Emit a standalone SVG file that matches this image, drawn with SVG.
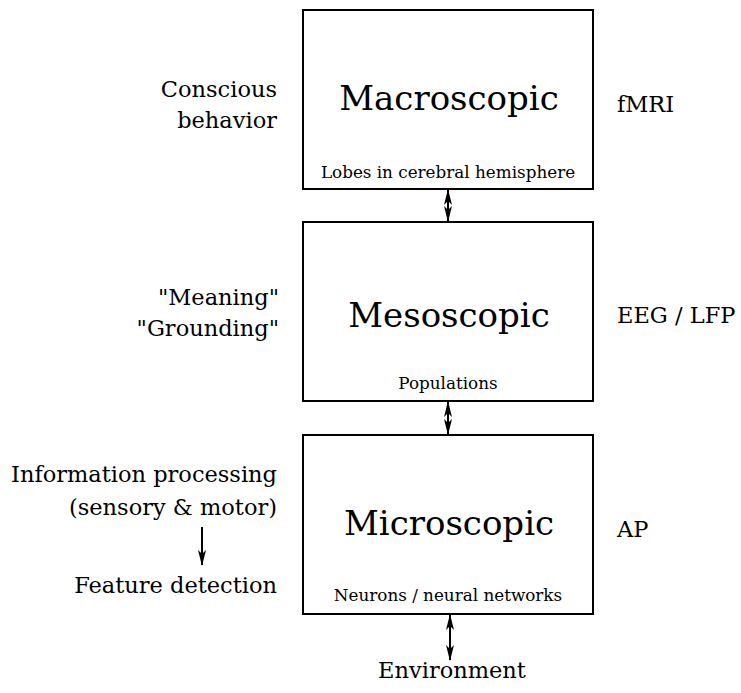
<svg xmlns="http://www.w3.org/2000/svg" width="741" height="693" viewBox="0 0 741 693">
<style>
  text { font-family: "DejaVu Serif", "Liberation Serif", serif; fill: #000; }
  .box { fill: #fff; stroke: #000; stroke-width: 2; }
  .title { font-size: 34px; text-anchor: middle; }
  .sub { font-size: 16.8px; text-anchor: middle; }
  .side { font-size: 22.5px; }
  .left { text-anchor: end; }
  .conn { stroke: #000; stroke-width: 2; fill: none; }
</style>
<defs>
  <marker id="head" viewBox="0 0 16 8" refX="15" refY="4" markerWidth="16" markerHeight="8" markerUnits="userSpaceOnUse" orient="auto-start-reverse">
    <path d="M0,0 L16,4 L0,8 L4,4 z" fill="#000"/>
  </marker>
</defs>
<rect width="741" height="693" fill="#fff"/>

<g id="macro">
  <rect class="box" x="303" y="10" width="290" height="179"/>
  <text class="title" x="449" y="110">Macroscopic</text>
  <text class="sub" x="448" y="178">Lobes in cerebral hemisphere</text>
</g>
<g id="meso">
  <rect class="box" x="303" y="222" width="290" height="179"/>
  <text class="title" x="449" y="327">Mesoscopic</text>
  <text class="sub" x="448" y="389">Populations</text>
</g>
<g id="micro">
  <rect class="box" x="303" y="435" width="290" height="179"/>
  <text class="title" x="449" y="535">Microscopic</text>
  <text class="sub" x="448" y="601">Neurons / neural networks</text>
</g>

<g id="left-labels">
  <text class="side left" x="277" y="97">Conscious</text>
  <text class="side left" x="277" y="128">behavior</text>
  <text class="side left" x="279" y="305">"Meaning"</text>
  <text class="side left" x="279" y="336">"Grounding"</text>
  <text class="side left" x="277" y="482">Information processing</text>
  <text class="side left" x="277" y="515">(sensory &amp; motor)</text>
  <text class="side left" x="277" y="593">Feature detection</text>
</g>
<g id="right-labels">
  <text class="side" x="617" y="112">fMRI</text>
  <text class="side" x="617" y="323">EEG / LFP</text>
  <text class="side" x="617" y="537">AP</text>
</g>
<g id="environment">
  <text class="side" x="452" y="678" text-anchor="middle">Environment</text>
</g>

<g id="connectors">
  <line class="conn" x1="448" y1="190" x2="448" y2="221" marker-start="url(#head)" marker-end="url(#head)"/>
  <line class="conn" x1="448" y1="402" x2="448" y2="434" marker-start="url(#head)" marker-end="url(#head)"/>
  <line class="conn" x1="450" y1="615" x2="450" y2="660" marker-start="url(#head)" marker-end="url(#head)"/>
  <line class="conn" x1="202" y1="527" x2="202" y2="565" marker-end="url(#head)"/>
</g>
</svg>
